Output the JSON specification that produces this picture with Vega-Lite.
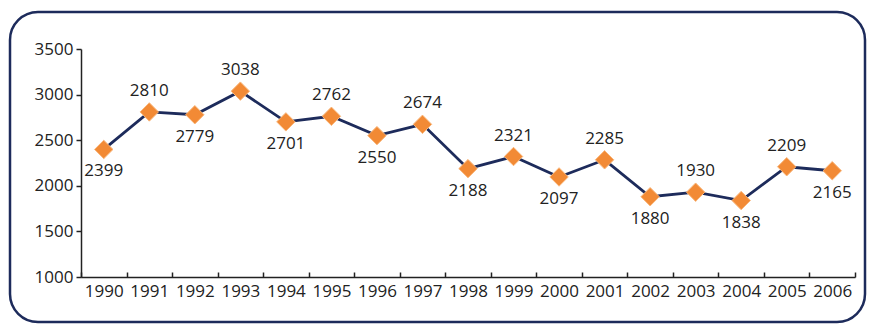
{
  "$schema": "https://vega.github.io/schema/vega-lite/v6.json",
  "autosize": "none",
  "width": 855,
  "height": 310,
  "padding": {"left": 10, "top": 12, "right": 5, "bottom": 6},
  "background": "white",
  "config": {
    "view": {"stroke": "#1d2b5b", "strokeWidth": 2.5, "cornerRadius": 28, "fill": "white"},
    "font": "Open Sans",
    "axis": {
      "labelFont": "Open Sans",
      "labelFontSize": 17,
      "labelColor": "#222222",
      "domainColor": "#222222",
      "tickColor": "#222222",
      "domainWidth": 1.5,
      "tickWidth": 1.5,
      "grid": false,
      "title": null
    }
  },
  "data": {
    "values": [
      {"year": "1990", "value": 2399},
      {"year": "1991", "value": 2810},
      {"year": "1992", "value": 2779},
      {"year": "1993", "value": 3038},
      {"year": "1994", "value": 2701},
      {"year": "1995", "value": 2762},
      {"year": "1996", "value": 2550},
      {"year": "1997", "value": 2674},
      {"year": "1998", "value": 2188},
      {"year": "1999", "value": 2321},
      {"year": "2000", "value": 2097},
      {"year": "2001", "value": 2285},
      {"year": "2002", "value": 1880},
      {"year": "2003", "value": 1930},
      {"year": "2004", "value": 1838},
      {"year": "2005", "value": 2209},
      {"year": "2006", "value": 2165}
    ]
  },
  "encoding": {
    "x": {
      "field": "year",
      "type": "ordinal",
      "bandPosition": 0.5,
      "scale": {"type": "band", "range": [71, 845], "paddingInner": 0, "paddingOuter": 0},
      "axis": {"labelAngle": 0, "tickBand": "extent", "tickSize": -5, "labelPadding": 11, "labelFontSize": 17, "offset": -45, "title": null}
    },
    "y": {
      "field": "value",
      "type": "quantitative",
      "scale": {"domain": [1000, 3500], "range": [265, 37], "nice": false, "zero": false},
      "axis": {"values": [1000, 1500, 2000, 2500, 3000, 3500], "format": "d", "tickSize": 5, "labelPadding": 3, "labelFontSize": 17, "offset": -71, "title": null}
    }
  },
  "layer": [
    {"mark": {"type": "line", "color": "#1d2b5b", "strokeWidth": 2.8}},
    {"mark": {"type": "point", "shape": "diamond", "filled": true, "size": 340, "fill": "#f28a35", "stroke": "#f9b77c", "strokeWidth": 1, "opacity": 1}},
    {
      "transform": [{"filter": "toNumber(datum.year) % 2 == 1"}],
      "mark": {"type": "text", "dy": -21, "fontSize": 17, "font": "Open Sans", "color": "#222222", "baseline": "middle"},
      "encoding": {"text": {"field": "value", "type": "quantitative", "format": "d"}}
    },
    {
      "transform": [{"filter": "toNumber(datum.year) % 2 == 0"}],
      "mark": {"type": "text", "dy": 22, "fontSize": 17, "font": "Open Sans", "color": "#222222", "baseline": "middle"},
      "encoding": {"text": {"field": "value", "type": "quantitative", "format": "d"}}
    }
  ]
}
